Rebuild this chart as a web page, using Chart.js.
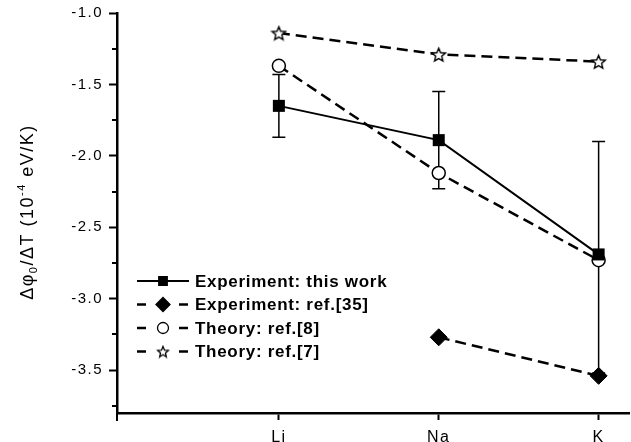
<!DOCTYPE html>
<html>
<head>
<meta charset="utf-8">
<script src="https://cdn.jsdelivr.net/npm/chart.js@4/dist/chart.umd.min.js"></script>
<style>
  html, body { margin: 0; padding: 0; background: #fff; overflow: hidden; }
  canvas { display: block; }
</style>
</head>
<body>
<canvas id="chart" width="631" height="442"></canvas>
<script>
// categories on the x axis and their positions
const elements = ["Li", "Na", "K"];
const elementPos = [1, 2, 3];

// values (10^-4 eV/K)
const expThisWork = [-1.65, -1.89, -2.69];
const expErrLow = [-1.87, -2.23, -3.52];
const expErrHigh = [-1.43, -1.55, -1.90];
const expRef35 = [null, -3.27, -3.54];
const theoryRef8 = [-1.37, -2.12, -2.73];
const theoryRef7 = [-1.14, -1.29, -1.34];

const seriesLabels = [
  "Experiment: this work",
  "Experiment: ref.[35]",
  "Theory: ref.[8]",
  "Theory: ref.[7]",
];

const yTicks = [-3.5, -3.0, -2.5, -2.0, -1.5, -1.0];
const yMinorTicks = [-3.75, -3.25, -2.75, -2.25, -1.75, -1.25];

const FONT = "'Liberation Sans', Arial, Helvetica, sans-serif";

function toPoints(values) {
  return values
    .map((v, i) => ({ x: elementPos[i], y: v }))
    .filter((p) => p.y !== null);
}

function starImage(size, lw) {
  const c = document.createElement("canvas");
  c.width = size;
  c.height = size;
  const g = c.getContext("2d");
  const cx = size / 2;
  const cy = size / 2 + size * 0.05;
  const R = size / 2 - lw;
  const r = R * 0.45;
  g.beginPath();
  for (let i = 0; i < 10; i++) {
    const a = -Math.PI / 2 + (i * Math.PI) / 5;
    const rr = i % 2 ? r : R;
    g.lineTo(cx + rr * Math.cos(a), cy + rr * Math.sin(a));
  }
  g.closePath();
  g.fillStyle = "#fff";
  g.fill();
  g.lineWidth = lw;
  g.strokeStyle = "#000";
  g.stroke();
  return c;
}

const bigStar = starImage(17, 1.4);
const smallStar = starImage(14, 1.3);

const DASH = [11, 6];

const datasets = [
  {
    label: seriesLabels[0],
    data: toPoints(expThisWork),
    borderColor: "#000",
    backgroundColor: "#000",
    borderWidth: 2,
    pointStyle: "rect",
    pointRadius: 8.5,
    pointBorderWidth: 0,
    legendMarker: { pointStyle: "rect", radius: 6, fill: "#000" },
  },
  {
    label: seriesLabels[1],
    data: toPoints(expRef35),
    borderColor: "#000",
    backgroundColor: "#000",
    borderWidth: 2.5,
    borderDash: DASH,
    pointStyle: "rectRot",
    pointRadius: 8.5,
    pointBorderWidth: 1,
    legendMarker: { pointStyle: "rectRot", radius: 7, fill: "#000" },
  },
  {
    label: seriesLabels[2],
    data: toPoints(theoryRef8),
    borderColor: "#000",
    backgroundColor: "#fff",
    borderWidth: 2.5,
    borderDash: DASH,
    pointStyle: "circle",
    pointRadius: 6.5,
    pointBorderWidth: 1.5,
    legendMarker: { pointStyle: "circle", radius: 5.5, fill: "#fff" },
  },
  {
    label: seriesLabels[3],
    data: toPoints(theoryRef7),
    borderColor: "#000",
    backgroundColor: "#fff",
    borderWidth: 2.5,
    borderDash: DASH,
    pointStyle: bigStar,
    pointRadius: 8,
    legendMarker: { pointStyle: smallStar, radius: 7, fill: "#fff" },
  },
];

// wider tracking for the tick labels, like the original
const tracking = {
  id: "tracking",
  beforeDraw(chart) {
    chart.ctx.letterSpacing = "1.5px";
  },
  afterDatasetsDraw(chart) {
    chart.ctx.letterSpacing = "0px";
  },
};

// error bars of "this work", drawn under the markers
const errorBars = {
  id: "errorBars",
  beforeDatasetsDraw(chart) {
    const { ctx, scales } = chart;
    ctx.save();
    ctx.strokeStyle = "#000";
    ctx.lineWidth = 1.5;
    elementPos.forEach((pos, i) => {
      const x = scales.x.getPixelForValue(pos);
      const y1 = scales.y.getPixelForValue(expErrLow[i]);
      const y2 = scales.y.getPixelForValue(expErrHigh[i]);
      ctx.beginPath();
      ctx.moveTo(x, y1);
      ctx.lineTo(x, y2);
      ctx.moveTo(x - 6.5, y1);
      ctx.lineTo(x + 6.5, y1);
      ctx.moveTo(x - 6.5, y2);
      ctx.lineTo(x + 6.5, y2);
      ctx.stroke();
    });
    ctx.restore();
  },
};

// minor ticks, axis stub and the y title with sub/superscript
const decorations = {
  id: "decorations",
  afterDraw(chart) {
    const { ctx, chartArea, scales } = chart;
    ctx.save();
    ctx.strokeStyle = "#000";
    ctx.lineWidth = 2;
    yMinorTicks.forEach((v) => {
      const y = Math.round(scales.y.getPixelForValue(v));
      ctx.beginPath();
      ctx.moveTo(chartArea.left - 5, y);
      ctx.lineTo(chartArea.left, y);
      ctx.stroke();
    });
    ctx.beginPath();
    ctx.moveTo(chartArea.left, chartArea.bottom);
    ctx.lineTo(chartArea.left, chartArea.bottom + 8);
    ctx.stroke();

    // y title
    const parts = [
      { t: "\u0394\u03c6", size: 18, dy: 0 },
      { t: "0", size: 11, dy: 4 },
      { t: "/\u0394T (10", size: 18, dy: 0 },
      { t: "-4", size: 11, dy: -8 },
      { t: " eV/K)", size: 18, dy: 0 },
    ];
    ctx.fillStyle = "#000";
    ctx.letterSpacing = "1.5px";
    let total = 0;
    parts.forEach((p) => {
      ctx.font = `${p.size}px ${FONT}`;
      p.w = ctx.measureText(p.t).width;
      total += p.w;
    });
    ctx.translate(33, 212);
    ctx.rotate(-Math.PI / 2);
    ctx.textBaseline = "alphabetic";
    ctx.textAlign = "left";
    let x = -total / 2;
    parts.forEach((p) => {
      ctx.font = `${p.size}px ${FONT}`;
      ctx.fillText(p.t, x, p.dy);
      x += p.w;
    });
    ctx.restore();
  },
};

const customLegend = {
  id: "customLegend",
  afterDraw(chart) {
    const { ctx } = chart;
    const rowY = [281, 304.5, 328, 351.5];
    ctx.save();
    chart.data.datasets.forEach((ds, i) => {
      const y = rowY[i];
      ctx.strokeStyle = "#000";
      ctx.lineWidth = ds.borderWidth;
      ctx.beginPath();
      if (ds.borderDash) {
        ctx.moveTo(137, y);
        ctx.lineTo(146, y);
        ctx.moveTo(179, y);
        ctx.lineTo(188, y);
      } else {
        ctx.moveTo(137, y);
        ctx.lineTo(189, y);
      }
      ctx.stroke();
      const m = ds.legendMarker;
      ctx.fillStyle = m.fill;
      ctx.lineWidth = 1.3;
      Chart.helpers.drawPoint(
        ctx,
        { pointStyle: m.pointStyle, radius: m.radius, rotation: 0, borderWidth: 1.3 },
        163,
        y
      );
      ctx.fillStyle = "#000";
      ctx.font = `bold 17px ${FONT}`;
      ctx.letterSpacing = "0.7px";
      ctx.textBaseline = "middle";
      ctx.textAlign = "left";
      ctx.fillText(ds.label, 195, y + 1);
      ctx.letterSpacing = "0px";
    });
    ctx.restore();
  },
};

new Chart(document.getElementById("chart"), {
  type: "line",
  data: { datasets },
  options: {
    responsive: false,
    animation: false,
    events: [],
    layout: {
      autoPadding: false, // otherwise point radius adds space on the right
      padding: { top: 13, right: 2, left: 0, bottom: 0 },
    },
    plugins: {
      legend: { display: false },
      tooltip: { enabled: false },
    },
    scales: {
      x: {
        type: "linear",
        min: -0.0125,
        max: 3.19,
        afterFit: (s) => {
          s.height = 29;
          s.paddingLeft = 0;
          s.paddingRight = 0;
        },
        afterBuildTicks: (s) => { s.ticks = elementPos.map((v) => ({ value: v })); },
        ticks: {
          color: "#000",
          font: { family: FONT, size: 16 },
          padding: 8,
          maxRotation: 0,
          callback: (v) => elements[elementPos.indexOf(v)] ?? "",
        },
        grid: {
          drawOnChartArea: false,
          drawTicks: true,
          tickLength: 7,
          tickWidth: 2,
          color: "#000",
        },
        border: { color: "#000", width: 2.5 },
      },
      y: {
        min: -3.8,
        max: -1.0,
        afterFit: (s) => {
          s.width = 117;
          s.paddingTop = 0;
          s.paddingBottom = 0;
        },
        afterBuildTicks: (s) => { s.ticks = yTicks.map((v) => ({ value: v })); },
        ticks: {
          color: "#000",
          font: { family: FONT, size: 15 },
          padding: 6,
          callback: (v) => v.toFixed(1),
        },
        grid: {
          drawOnChartArea: false,
          drawTicks: true,
          tickLength: 8,
          tickWidth: 2,
          color: "#000",
        },
        border: { color: "#000", width: 2.5 },
      },
    },
  },
  plugins: [tracking, errorBars, decorations, customLegend],
});
</script>
</body>
</html>
